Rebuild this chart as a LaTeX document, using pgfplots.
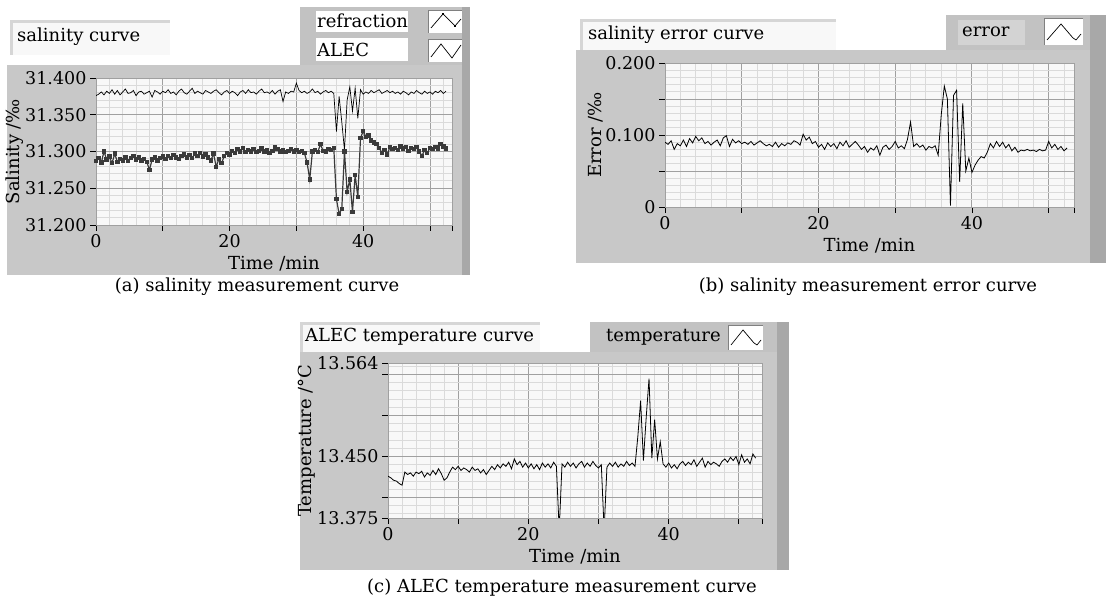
\documentclass[border=0pt]{standalone}
\usepackage{fontspec}
\setmainfont{DejaVu Serif}
\usepackage{pgfplots}
\usepackage{pgfplotstable}
\pgfplotsset{compat=1.18}
\definecolor{lvgray}{HTML}{C8C8C8}
\definecolor{lvleg}{HTML}{C2C2C2}
\definecolor{lvdark}{HTML}{A8A8A8}
\definecolor{lvmaj}{HTML}{A0A0A0}
\definecolor{lvmin}{HTML}{DADADA}
\definecolor{lvbox}{HTML}{F8F8F8}
\definecolor{lvbev}{HTML}{D6D6D6}
\definecolor{refc}{HTML}{3A3A3A}
\newcommand\lvf{\fontsize{18}{20}\selectfont}
\newcommand\lvt{\fontsize{17.5}{18}\selectfont}

\pgfplotstableread[row sep=\\]{
t y\\
0.0 31.376\\ 0.4 31.378\\ 0.8 31.381\\ 1.2 31.377\\ 1.6 31.382\\ 2.0 31.379\\ 2.4 31.384\\ 2.8 31.378\\ 3.2 31.383\\ 3.6 31.377\\
4.0 31.381\\ 4.4 31.385\\ 4.8 31.379\\ 5.2 31.380\\ 5.6 31.383\\ 6.0 31.376\\ 6.4 31.381\\ 6.8 31.382\\ 7.2 31.378\\ 7.6 31.380\\
8.0 31.382\\ 8.4 31.374\\ 8.8 31.383\\ 9.2 31.381\\ 9.6 31.378\\ 10.0 31.382\\ 10.4 31.380\\ 10.8 31.384\\ 11.2 31.379\\ 11.6 31.381\\
12.0 31.377\\ 12.4 31.382\\ 12.8 31.385\\ 13.2 31.380\\ 13.6 31.378\\ 14.0 31.382\\ 14.4 31.386\\ 14.8 31.379\\ 15.2 31.382\\ 15.6 31.380\\
16.0 31.378\\ 16.4 31.383\\ 16.8 31.381\\ 17.2 31.379\\ 17.6 31.382\\ 18.0 31.384\\ 18.4 31.380\\ 18.8 31.377\\ 19.2 31.381\\ 19.6 31.383\\
20.0 31.379\\ 20.4 31.382\\ 20.8 31.380\\ 21.2 31.376\\ 21.6 31.381\\ 22.0 31.383\\ 22.4 31.379\\ 22.8 31.384\\ 23.2 31.380\\ 23.6 31.381\\
24.0 31.378\\ 24.4 31.382\\ 24.8 31.385\\ 25.2 31.380\\ 25.6 31.381\\ 26.0 31.379\\ 26.4 31.383\\ 26.8 31.378\\ 27.2 31.382\\ 27.6 31.384\\
28.0 31.368\\ 28.4 31.381\\ 28.8 31.379\\ 29.2 31.382\\ 29.6 31.381\\ 30.0 31.393\\ 30.4 31.383\\ 30.8 31.380\\ 31.2 31.382\\ 31.6 31.379\\
32.0 31.381\\ 32.4 31.385\\ 32.8 31.380\\ 33.2 31.382\\ 33.6 31.378\\ 34.0 31.381\\ 34.4 31.383\\ 34.8 31.380\\ 35.2 31.382\\ 35.6 31.379\\
36.0 31.327\\ 36.4 31.375\\ 36.8 31.340\\ 37.2 31.302\\ 37.6 31.370\\ 38.0 31.388\\ 38.4 31.355\\ 38.8 31.386\\ 39.2 31.345\\ 39.6 31.384\\
40.0 31.378\\ 40.4 31.381\\ 40.8 31.379\\ 41.2 31.383\\ 41.6 31.380\\ 42.0 31.382\\ 42.4 31.384\\ 42.8 31.379\\ 43.2 31.381\\ 43.6 31.383\\
44.0 31.380\\ 44.4 31.382\\ 44.8 31.379\\ 45.2 31.381\\ 45.6 31.378\\ 46.0 31.382\\ 46.4 31.380\\ 46.8 31.377\\ 47.2 31.381\\ 47.6 31.379\\
48.0 31.383\\ 48.4 31.380\\ 48.8 31.378\\ 49.2 31.382\\ 49.6 31.379\\ 50.0 31.381\\ 50.4 31.378\\ 50.8 31.382\\ 51.2 31.380\\ 51.6 31.383\\
52.0 31.379\\ 52.4 31.382\\
}\alec

\pgfplotstableread[row sep=\\]{
t y\\
0.0 31.287\\ 0.4 31.291\\ 0.8 31.285\\ 1.2 31.300\\ 1.6 31.289\\ 2.0 31.293\\ 2.4 31.284\\ 2.8 31.297\\ 3.2 31.286\\ 3.6 31.290\\
4.0 31.288\\ 4.4 31.292\\ 4.8 31.287\\ 5.2 31.291\\ 5.6 31.294\\ 6.0 31.289\\ 6.4 31.292\\ 6.8 31.288\\ 7.2 31.290\\ 7.6 31.286\\
8.0 31.275\\ 8.4 31.289\\ 8.8 31.292\\ 9.2 31.288\\ 9.6 31.291\\ 10.0 31.293\\ 10.4 31.290\\ 10.8 31.294\\ 11.2 31.291\\ 11.6 31.295\\
12.0 31.292\\ 12.4 31.290\\ 12.8 31.294\\ 13.2 31.296\\ 13.6 31.292\\ 14.0 31.295\\ 14.4 31.291\\ 14.8 31.297\\ 15.2 31.294\\ 15.6 31.298\\
16.0 31.293\\ 16.4 31.296\\ 16.8 31.292\\ 17.2 31.288\\ 17.6 31.297\\ 18.0 31.279\\ 18.4 31.290\\ 18.8 31.284\\ 19.2 31.294\\ 19.6 31.298\\
20.0 31.296\\ 20.4 31.301\\ 20.8 31.298\\ 21.2 31.303\\ 21.6 31.300\\ 22.0 31.305\\ 22.4 31.299\\ 22.8 31.302\\ 23.2 31.300\\ 23.6 31.303\\
24.0 31.299\\ 24.4 31.301\\ 24.8 31.304\\ 25.2 31.300\\ 25.6 31.302\\ 26.0 31.298\\ 26.4 31.301\\ 26.8 31.306\\ 27.2 31.303\\ 27.6 31.300\\
28.0 31.302\\ 28.4 31.299\\ 28.8 31.301\\ 29.2 31.303\\ 29.6 31.300\\ 30.0 31.302\\ 30.4 31.299\\ 30.8 31.301\\ 31.2 31.298\\ 31.6 31.285\\
32.0 31.262\\ 32.4 31.300\\ 32.8 31.302\\ 33.2 31.299\\ 33.6 31.310\\ 34.0 31.301\\ 34.4 31.300\\ 34.8 31.303\\ 35.2 31.302\\ 35.6 31.305\\
36.0 31.235\\ 36.4 31.215\\ 36.8 31.222\\ 37.2 31.300\\ 37.6 31.245\\ 38.0 31.262\\ 38.4 31.218\\ 38.8 31.268\\ 39.2 31.238\\ 39.6 31.318\\
40.0 31.328\\ 40.4 31.320\\ 40.8 31.322\\ 41.2 31.315\\ 41.6 31.312\\ 42.0 31.310\\ 42.4 31.305\\ 42.8 31.298\\ 43.2 31.302\\ 43.6 31.296\\
44.0 31.306\\ 44.4 31.303\\ 44.8 31.305\\ 45.2 31.302\\ 45.6 31.307\\ 46.0 31.304\\ 46.4 31.306\\ 46.8 31.301\\ 47.2 31.305\\ 47.6 31.303\\
48.0 31.306\\ 48.4 31.300\\ 48.8 31.294\\ 49.2 31.302\\ 49.6 31.298\\ 50.0 31.305\\ 50.4 31.303\\ 50.8 31.306\\ 51.2 31.304\\ 51.6 31.310\\
52.0 31.307\\ 52.4 31.304\\
}\refr

\pgfplotstableread[row sep=\\]{
t y\\
0.0 0.090\\ 0.4 0.087\\ 0.8 0.092\\ 1.2 0.080\\ 1.6 0.088\\ 2.0 0.085\\ 2.4 0.093\\ 2.8 0.084\\ 3.2 0.095\\ 3.6 0.089\\
4.0 0.098\\ 4.4 0.092\\ 4.8 0.096\\ 5.2 0.088\\ 5.6 0.091\\ 6.0 0.086\\ 6.4 0.090\\ 6.8 0.093\\ 7.2 0.085\\ 7.6 0.096\\
8.0 0.099\\ 8.4 0.084\\ 8.8 0.094\\ 9.2 0.089\\ 9.6 0.092\\ 10.0 0.088\\ 10.4 0.090\\ 10.8 0.087\\ 11.2 0.091\\ 11.6 0.086\\
12.0 0.089\\ 12.4 0.092\\ 12.8 0.088\\ 13.2 0.085\\ 13.6 0.087\\ 14.0 0.084\\ 14.4 0.090\\ 14.8 0.083\\ 15.2 0.088\\ 15.6 0.085\\
16.0 0.089\\ 16.4 0.087\\ 16.8 0.092\\ 17.2 0.090\\ 17.6 0.086\\ 18.0 0.101\\ 18.4 0.093\\ 18.8 0.097\\ 19.2 0.088\\ 19.6 0.091\\
20.0 0.083\\ 20.4 0.087\\ 20.8 0.080\\ 21.2 0.089\\ 21.6 0.084\\ 22.0 0.088\\ 22.4 0.081\\ 22.8 0.090\\ 23.2 0.085\\ 23.6 0.092\\
24.0 0.083\\ 24.4 0.087\\ 24.8 0.091\\ 25.2 0.086\\ 25.6 0.080\\ 26.0 0.084\\ 26.4 0.076\\ 26.8 0.082\\ 27.2 0.079\\ 27.6 0.085\\
28.0 0.072\\ 28.4 0.083\\ 28.8 0.086\\ 29.2 0.080\\ 29.6 0.084\\ 30.0 0.091\\ 30.4 0.082\\ 30.8 0.085\\ 31.2 0.081\\ 31.6 0.094\\
32.0 0.118\\ 32.4 0.084\\ 32.8 0.088\\ 33.2 0.083\\ 33.6 0.086\\ 34.0 0.079\\ 34.4 0.084\\ 34.8 0.082\\ 35.2 0.085\\ 35.6 0.072\\
36.0 0.128\\ 36.4 0.168\\ 36.8 0.150\\ 37.2 0.002\\ 37.6 0.155\\ 38.0 0.162\\ 38.4 0.035\\ 38.8 0.144\\ 39.2 0.050\\ 39.6 0.068\\
40.0 0.048\\ 40.4 0.058\\ 40.8 0.065\\ 41.2 0.070\\ 41.6 0.068\\ 42.0 0.076\\ 42.4 0.088\\ 42.8 0.082\\ 43.2 0.091\\ 43.6 0.084\\
44.0 0.090\\ 44.4 0.082\\ 44.8 0.087\\ 45.2 0.078\\ 45.6 0.083\\ 46.0 0.076\\ 46.4 0.079\\ 46.8 0.078\\ 47.2 0.080\\ 47.6 0.078\\
48.0 0.079\\ 48.4 0.077\\ 48.8 0.080\\ 49.2 0.078\\ 49.6 0.079\\ 50.0 0.091\\ 50.4 0.082\\ 50.8 0.087\\ 51.2 0.080\\ 51.6 0.084\\
52.0 0.078\\ 52.4 0.082\\
}\err

\pgfplotstableread[row sep=\\]{
t y\\
0.0 13.426\\ 0.4 13.424\\ 0.8 13.421\\ 1.2 13.420\\ 1.6 13.417\\ 2.0 13.415\\ 2.4 13.431\\ 2.8 13.428\\ 3.2 13.430\\ 3.6 13.426\\
4.0 13.431\\ 4.4 13.429\\ 4.8 13.432\\ 5.2 13.425\\ 5.6 13.430\\ 6.0 13.427\\ 6.4 13.433\\ 6.8 13.428\\ 7.2 13.435\\ 7.6 13.429\\
8.0 13.421\\ 8.4 13.424\\ 8.8 13.431\\ 9.2 13.437\\ 9.6 13.434\\ 10.0 13.438\\ 10.4 13.433\\ 10.8 13.436\\ 11.2 13.434\\ 11.6 13.431\\
12.0 13.437\\ 12.4 13.433\\ 12.8 13.435\\ 13.2 13.430\\ 13.6 13.434\\ 14.0 13.428\\ 14.4 13.433\\ 14.8 13.438\\ 15.2 13.434\\ 15.6 13.440\\
16.0 13.436\\ 16.4 13.441\\ 16.8 13.438\\ 17.2 13.443\\ 17.6 13.435\\ 18.0 13.447\\ 18.4 13.440\\ 18.8 13.444\\ 19.2 13.437\\ 19.6 13.442\\
20.0 13.436\\ 20.4 13.441\\ 20.8 13.435\\ 21.2 13.440\\ 21.6 13.434\\ 22.0 13.442\\ 22.4 13.437\\ 22.8 13.441\\ 23.2 13.436\\ 23.6 13.443\\
24.0 13.438\\ 24.4 13.360\\ 24.8 13.441\\ 25.2 13.437\\ 25.6 13.443\\ 26.0 13.438\\ 26.4 13.442\\ 26.8 13.436\\ 27.2 13.441\\ 27.6 13.444\\
28.0 13.437\\ 28.4 13.442\\ 28.8 13.438\\ 29.2 13.444\\ 29.6 13.439\\ 30.0 13.436\\ 30.4 13.440\\ 30.8 13.360\\ 31.2 13.437\\ 31.6 13.442\\
32.0 13.438\\ 32.4 13.443\\ 32.8 13.437\\ 33.2 13.441\\ 33.6 13.438\\ 34.0 13.444\\ 34.4 13.439\\ 34.8 13.442\\ 35.2 13.438\\ 35.6 13.474\\
36.0 13.518\\ 36.4 13.445\\ 36.8 13.498\\ 37.2 13.545\\ 37.6 13.448\\ 38.0 13.495\\ 38.4 13.447\\ 38.8 13.468\\ 39.2 13.441\\ 39.6 13.437\\
40.0 13.442\\ 40.4 13.436\\ 40.8 13.440\\ 41.2 13.435\\ 41.6 13.441\\ 42.0 13.444\\ 42.4 13.439\\ 42.8 13.443\\ 43.2 13.440\\ 43.6 13.446\\
44.0 13.438\\ 44.4 13.443\\ 44.8 13.448\\ 45.2 13.437\\ 45.6 13.444\\ 46.0 13.440\\ 46.4 13.443\\ 46.8 13.441\\ 47.2 13.438\\ 47.6 13.444\\
48.0 13.447\\ 48.4 13.443\\ 48.8 13.449\\ 49.2 13.445\\ 49.6 13.450\\ 50.0 13.440\\ 50.4 13.452\\ 50.8 13.443\\ 51.2 13.447\\ 51.6 13.441\\
52.0 13.453\\ 52.4 13.448\\
}\temp

\pgfplotsset{
  lv/.style={
    scale only axis, anchor=south west,
    xmin=0, xmax=53.3,
    axis background/.style={fill=lvbox},
    axis line style={draw=lvmaj, line width=0.6pt},
    tick align=outside,
    major tick length=6pt, minor tick length=0pt,
    tick style={black, line width=0.8pt},
    xtick pos=left, ytick pos=left,
    grid=both,
    major grid style={draw=lvmaj, line width=0.9pt},
    minor grid style={draw=lvmin, line width=0.9pt},
    xtick={0,10,20,30,40,50,53.3},
    xticklabels={0,,20,,40,,},
    minor xtick={2,4,6,8,12,14,16,18,22,24,26,28,32,34,36,38,42,44,46,48,52},
    ticklabel style={font=\lvt},
    /pgf/number format/assume math mode=true,
    label style={font=\lvf},
    xlabel={Time /min},
    xlabel style={yshift=-2pt},
    ylabel style={yshift=-5pt},
  }
}

\begin{document}
\begin{tikzpicture}[x=1pt,y=1pt]
\useasboundingbox (0,0) rectangle (1109,601);
\coordinate (PA) at (96,376);
\coordinate (PB) at (665,394);
\coordinate (PC) at (388,83);
\begin{scope}[yshift=601pt,y=-1pt]
% ---------- panel (a)
\fill[lvgray] (7,65) rectangle (470,275);
\fill[lvdark] (462,7) rectangle (470,275);
\fill[lvleg] (300,7) rectangle (462,65);
\fill[lvbev] (10,20) rectangle (170,55);
\fill[lvbox] (13,23) rectangle (170,55);
\node[anchor=west,font=\lvf,inner sep=0pt] at (17,37) {salinity curve};
\fill[white] (316,11) rectangle (408,32);
\fill[white] (316,38) rectangle (408,61);
\node[anchor=west,font=\lvf,inner sep=0pt] at (317,21) {refraction};
\node[anchor=west,font=\lvf,inner sep=0pt] at (317,50) {ALEC};
\fill[white] (428,10) rectangle (462,33);
\draw[gray,line width=0.8pt] (428,33)--(428,10)--(462,10);
\fill[white] (428,39) rectangle (462,62);
\draw[gray,line width=0.8pt] (428,62)--(428,39)--(462,39);
\draw[black,line width=0.7pt] (431,28)--(443,14)--(455,26)--(461,19);
\fill[black] (442,13) rectangle (444,15);
\fill[black] (454,25) rectangle (456,27);
\draw[black,line width=0.7pt] (431,57)--(441,44)--(452,58)--(461,45);
\node[font=\lvf] at (257,287) {(a) salinity measurement curve};
% ---------- panel (b)
\fill[lvgray] (576,50) rectangle (1106,263);
\fill[lvleg] (946,15) rectangle (1106,50);
\fill[lvdark] (1090,15) rectangle (1106,263);
\fill[lvbev] (580,19) rectangle (836,50);
\fill[lvbox] (583,22) rectangle (836,50);
\node[anchor=west,font=\lvf,inner sep=0pt] at (588,35) {salinity error curve};
\fill[lvgray!80!white] (958,20) rectangle (1025,45);
\node[anchor=west,font=\lvf,inner sep=0pt] at (962,32) {error};
\fill[white] (1044,18) rectangle (1083,45);
\draw[gray,line width=0.8pt] (1044,45)--(1044,18)--(1083,18);
\draw[black,line width=0.7pt] (1047,40)--(1061,24)--(1073,38)--(1076,40)--(1081,34);
\node[font=\lvf] at (868,287) {(b) salinity measurement error curve};
% ---------- panel (c)
\fill[lvgray] (300,352) rectangle (789,570);
\fill[lvleg] (590,322) rectangle (789,352);
\fill[lvdark] (777,322) rectangle (789,570);
\fill[lvbev] (300,322) rectangle (540,352);
\fill[lvbox] (303,325) rectangle (540,352);
\node[anchor=west,font=\lvf,inner sep=0pt] at (305,337) {ALEC temperature curve};
\node[anchor=west,font=\lvf,inner sep=0pt] at (606,337) {temperature};
\fill[white] (728,325) rectangle (763,350);
\draw[gray,line width=0.8pt] (728,350)--(728,325)--(763,325);
\draw[black,line width=0.7pt] (731,345)--(743,330)--(754,343)--(757,345)--(761,340);
\node[font=\lvf] at (562,588) {(c) ALEC temperature measurement curve};
\end{scope}

% ---------- axis (a)
\begin{axis}[lv, at={(PA)}, width=356pt, height=147pt,
  ymin=31.2, ymax=31.4,
  ytick={31.2,31.25,31.3,31.35,31.4},
  yticklabels={31.200,31.250,31.300,31.350,31.400},
  minor ytick={31.21,31.22,31.23,31.24,31.26,31.27,31.28,31.29,31.31,31.32,31.33,31.34,31.36,31.37,31.38,31.39},
  ylabel={Salinity /‰}]
\addplot[black, line width=0.7pt] table[x=t,y=y] {\alec};
\addplot[refc, line width=1.2pt, mark=square*, mark size=1.6pt, mark options={fill=refc,draw=refc}] table[x=t,y=y] {\refr};
\end{axis}

% ---------- axis (b)
\begin{axis}[lv, at={(PB)}, width=409pt, height=144pt,
  ymin=0, ymax=0.2,
  ytick={0,0.05,0.1,0.15,0.2},
  yticklabels={0,,0.100,,0.200},
  minor ytick={0.01,0.02,0.03,0.04,0.06,0.07,0.08,0.09,0.11,0.12,0.13,0.14,0.16,0.17,0.18,0.19},
  ylabel={Error /‰}]
\addplot[black, line width=0.8pt] table[x=t,y=y] {\err};
\end{axis}

% ---------- axis (c)
\begin{axis}[lv, at={(PC)}, width=374pt, height=155pt,
  ymin=13.375, ymax=13.564,
  ytick={13.375,13.4,13.45,13.5,13.55,13.564},
  yticklabels={13.375,,13.450,,,13.564},
  minor ytick={13.38,13.39,13.41,13.42,13.43,13.44,13.46,13.47,13.48,13.49,13.51,13.52,13.53,13.54,13.56},
  ylabel={Temperature /°C}]
\addplot[black, line width=0.8pt] table[x=t,y=y] {\temp};
\end{axis}
\end{tikzpicture}
\end{document}
